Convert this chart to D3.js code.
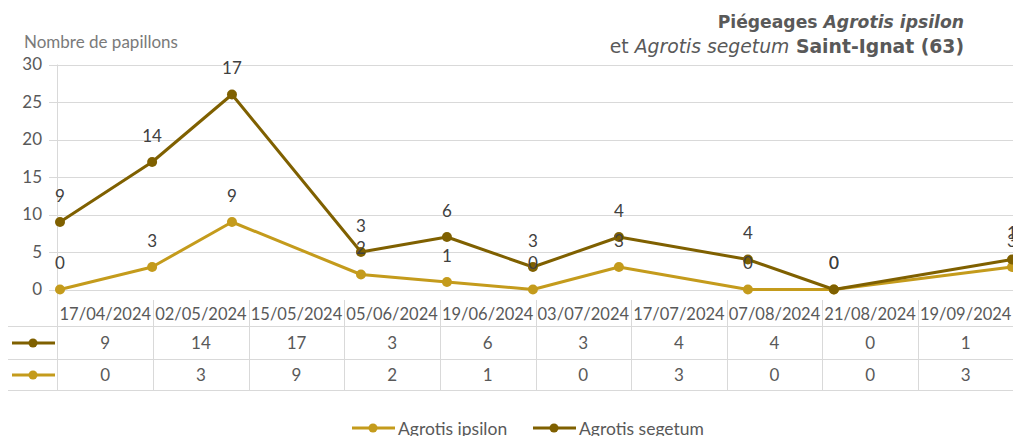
<!DOCTYPE html>
<html><head><meta charset="utf-8">
<script src="https://cdn.jsdelivr.net/npm/d3@7"></script>
<style>body{margin:0;background:#fff}svg{display:block}</style>
</head><body>
<script>
const dates = ["17/04/2024","02/05/2024","15/05/2024","05/06/2024","19/06/2024","03/07/2024","17/07/2024","07/08/2024","21/08/2024","19/09/2024"];
const ipsilon = [0,3,9,2,1,0,3,0,0,3];
const segetum = [9,14,17,3,6,3,4,4,0,1];
const yTicks = [0,5,10,15,20,25,30];
const seriesNames = ["Agrotis ipsilon","Agrotis segetum"];
const colors = {"Agrotis ipsilon":"#C49B1C","Agrotis segetum":"#7F6000"};

const W=1013,H=436;
const svg=d3.select("body").append("svg").attr("width",W).attr("height",H);
const parse=d3.timeParse("%d/%m/%Y");
const rows=dates.map((d,i)=>({date:parse(d),"Agrotis ipsilon":ipsilon[i],"Agrotis segetum":segetum[i]}));
const stacked=d3.stack().keys(seriesNames)(rows);

const x=d3.scaleTime().domain([parse(dates[0]),parse(dates[dates.length-1])]).range([60,1012]);
const y=d3.scaleLinear().domain([0,30]).range([289.5,64.5]);
const font="Lato, 'Open Sans', sans-serif";

// gridlines
svg.append("g").selectAll("line").data(yTicks).join("line")
 .attr("x1",49).attr("x2",W).attr("y1",d=>Math.round(y(d))+0.5).attr("y2",d=>Math.round(y(d))+0.5)
 .attr("stroke","#d9d9d9").attr("stroke-width",1);
svg.append("line").attr("x1",57.5).attr("x2",57.5).attr("y1",y(30)).attr("y2",391).attr("stroke","#d9d9d9");

// y tick labels
svg.append("g").selectAll("text").data(yTicks).join("text")
 .attr("x",42).attr("y",d=>y(d)).attr("dy","0.35em").attr("text-anchor","end")
 .attr("font-family",font).attr("font-size",17).attr("fill","#595959").text(d=>d);

svg.append("text").attr("x",24).attr("y",48).attr("font-family",font).attr("font-size",17)
 .attr("fill","#7a7a7a").text("Nombre de papillons");

// title
const t=svg.append("text").attr("text-anchor","end").attr("font-family","'DejaVu Sans', Verdana, sans-serif")
 .attr("font-weight","bold").attr("fill","#595959");
const l1=t.append("tspan").attr("x",964).attr("y",28).attr("font-size",17.2);
l1.append("tspan").text("Piégeages ");
l1.append("tspan").attr("font-style","italic").text("Agrotis ipsilon");
const l2=t.append("tspan").attr("x",964).attr("y",53).attr("font-size",18.8);
l2.append("tspan").attr("font-weight","normal").text("et ");
l2.append("tspan").attr("font-weight","normal").attr("font-style","italic").text("Agrotis segetum");
l2.append("tspan").text(" Saint-Ignat (63)");

// lines and markers
const line=d3.line().x(d=>x(d.data.date)).y(d=>y(d[1]));
stacked.forEach(s=>{
  const c=colors[s.key];
  svg.append("path").datum(s).attr("d",line).attr("fill","none").attr("stroke",c)
    .attr("stroke-width",3).attr("stroke-linejoin","round").attr("stroke-linecap","round");
  svg.append("g").selectAll("circle").data(s).join("circle")
    .attr("cx",d=>x(d.data.date)).attr("cy",d=>y(d[1])).attr("r",5).attr("fill",c);
});
// data labels
stacked.forEach(s=>{
  svg.append("g").selectAll("text").data(s).join("text")
   .attr("x",d=>x(d.data.date)).attr("y",d=>y(d[1])-26).attr("dy","0.35em").attr("text-anchor","middle")
   .attr("font-family",font).attr("font-size",17).attr("fill","#404040").text(d=>d.data[s.key]);
});

// data table
const col=d3.scaleBand().domain(dates).range([57.5,57.5+95.6*10]);
const tbl=svg.append("g");
[326.5,359.5,390.5].forEach(yy=>tbl.append("line").attr("x1",8).attr("x2",W).attr("y1",yy).attr("y2",yy).attr("stroke","#d9d9d9"));
dates.forEach((d,i)=>{ if(i>0) tbl.append("line").attr("x1",Math.round(col(d))+0.5).attr("x2",Math.round(col(d))+0.5).attr("y1",300).attr("y2",391).attr("stroke","#d9d9d9");});
tbl.selectAll("text.date").data(dates).join("text").attr("class","date")
 .attr("x",d=>col(d)+col.bandwidth()/2).attr("y",314).attr("dy","0.35em").attr("text-anchor","middle")
 .attr("font-family",font).attr("font-size",16.5).attr("fill","#595959").text(d=>d);
const tableRows=[{key:"Agrotis segetum",vals:segetum,y:343},{key:"Agrotis ipsilon",vals:ipsilon,y:375}];
tableRows.forEach(r=>{
  tbl.append("line").attr("x1",12).attr("x2",55).attr("y1",r.y).attr("y2",r.y).attr("stroke",colors[r.key]).attr("stroke-width",3);
  tbl.append("circle").attr("cx",33).attr("cy",r.y).attr("r",4.5).attr("fill",colors[r.key]);
  tbl.selectAll(null).data(r.vals).join("text")
   .attr("x",(v,i)=>col(dates[i])+col.bandwidth()/2).attr("y",r.y).attr("dy","0.35em").attr("text-anchor","middle")
   .attr("font-family",font).attr("font-size",17).attr("fill","#595959").text(v=>v);
});

// legend
const leg=[{key:"Agrotis ipsilon",x:352},{key:"Agrotis segetum",x:533}];
leg.forEach(l=>{
  const g=svg.append("g");
  g.append("line").attr("x1",l.x).attr("x2",l.x+43).attr("y1",428).attr("y2",428).attr("stroke",colors[l.key]).attr("stroke-width",3);
  g.append("circle").attr("cx",l.x+21).attr("cy",428).attr("r",4.5).attr("fill",colors[l.key]);
  g.append("text").attr("x",l.x+46).attr("y",428).attr("dy","0.38em").attr("font-family",font).attr("font-size",17.5)
   .attr("fill","#595959").text(l.key);
});
</script>
</body></html>
